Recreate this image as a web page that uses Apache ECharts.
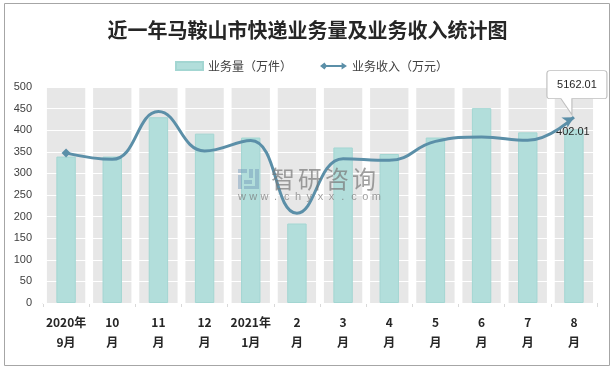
<!DOCTYPE html>
<html>
<head>
<meta charset="utf-8">
<script src="https://cdn.jsdelivr.net/npm/echarts@6/dist/echarts.min.js"></script>
<style>
html,body{margin:0;padding:0;background:#fff;}
#c{width:615px;height:371px;}
</style>
</head>
<body>
<div id="c"></div>
<script>
var titleText = '近一年马鞍山市快递业务量及业务收入统计图';
var categories = ['2020年\n9月','10\n月','11\n月','12\n月','2021年\n1月','2\n月','3\n月','4\n月','5\n月','6\n月','7\n月','8\n月'];
var volumeName = '业务量（万件）';
var revenueName = '业务收入（万元）';
var volume = [339, 339, 430, 392, 383, 184, 360, 345, 383, 451, 395, 402.01];
var revenue = [4164, 3990, 5316, 4224, 4512, 2492, 4008, 3963, 4490, 4612, 4521, 5162.01];
var yTicks = {min: 0, max: 500, interval: 50};
var y2Range = {min: 0, max: 6000};
var bandValue = [500,500,500,500,500,500,500,500,500,500,500,500];
var watermarkName = '智研咨询';
var watermarkUrl = 'www.chyxx.com';

var chart = echarts.init(document.getElementById('c'), null, {renderer: 'canvas'});

var lastIdx = revenue.length - 1;
var lineData = revenue.map(function (v, i) {
  if (i === 0) return {value: v, symbol: 'diamond', symbolSize: 9};
  if (i === lastIdx) return {value: v, symbol: 'arrow', symbolSize: [9, 11], symbolRotate: -60};
  return {value: v, symbol: 'none'};
});
var barData = volume.map(function (v, i) {
  if (i === lastIdx) {
    return {value: v, label: {show: true, formatter: String(v.toFixed(2)), position: ['50%', 0], align: 'center', verticalAlign: 'middle', offset: [-1, 3], color: '#262626', fontSize: 11, fontFamily: 'Liberation Sans'}};
  }
  return v;
});

var calloutPath = 'path://M3,0 H57 Q60,0 60,3 V25 Q60,28 57,28 H25 L25,44 L14,28 H3 Q0,28 0,25 V3 Q0,0 3,0 Z';
var wmFill = 'rgba(110,150,185,0.45)';
var wmText = 'rgba(120,120,120,0.7)';

var graphics = [
  {type: 'rect', silent: true, shape: {x: 4.5, y: 3.5, width: 605, height: 362}, style: {fill: 'none', stroke: '#a6a6a6', lineWidth: 1}},
  {type: 'rect', zlevel: 1, silent: true, shape: {x: 238, y: 169, width: 9, height: 4}, style: {fill: wmFill}},
  {type: 'rect', zlevel: 1, silent: true, shape: {x: 238, y: 175, width: 4, height: 14}, style: {fill: wmFill}},
  {type: 'rect', zlevel: 1, silent: true, shape: {x: 244, y: 180, width: 8, height: 4}, style: {fill: wmFill}},
  {type: 'rect', zlevel: 1, silent: true, shape: {x: 249, y: 169, width: 4, height: 9}, style: {fill: wmFill}},
  {type: 'rect', zlevel: 1, silent: true, shape: {x: 255, y: 169, width: 4, height: 20}, style: {fill: wmFill}},
  {type: 'rect', zlevel: 1, silent: true, shape: {x: 244, y: 186, width: 11, height: 3}, style: {fill: wmFill}}
];
watermarkName.split('').forEach(function (ch, i) {
  graphics.push({type: 'text', zlevel: 1, silent: true, x: 283 + i * 27, y: 179,
    style: {text: ch, fontSize: 24, fill: wmText, align: 'center', verticalAlign: 'middle', fontFamily: '"Noto Sans CJK SC"'}});
});
watermarkUrl.split('').forEach(function (ch, i) {
  graphics.push({type: 'text', zlevel: 1, silent: true, x: 242 + i * 11.2, y: 197,
    style: {text: ch, fontSize: 11, fill: wmText, align: 'center', verticalAlign: 'middle', fontFamily: 'Liberation Sans'}});
});

chart.setOption({
  animation: false,
  backgroundColor: '#ffffff',
  title: {
    text: titleText,
    left: 'center',
    top: 15,
    textStyle: {fontSize: 20, fontWeight: 'bold', color: '#262626', fontFamily: '"Noto Sans CJK SC"'}
  },
  legend: {
    left: 170,
    top: 55,
    itemWidth: 27,
    itemHeight: 8,
    itemGap: 28,
    textStyle: {fontSize: 12, color: '#404040', fontFamily: '"Noto Sans CJK SC"'},
    data: [
      {name: volumeName, icon: 'rect'},
      {name: revenueName, icon: 'path://M0,4 L5,0 L7,3 L24,3 L24,0 L30,4 L24,8 L24,5 L7,5 L5,8 Z'}
    ]
  },
  grid: {left: 43, right: 18, top: 87, bottom: 68, containLabel: false},
  xAxis: [{
    type: 'category',
    data: categories,
    axisLine: {lineStyle: {color: '#d9d9d9'}},
    axisTick: {show: true, length: 4, lineStyle: {color: '#d9d9d9'}},
    axisLabel: {interval: 0, fontSize: 12, fontWeight: 'bold', color: '#262626', lineHeight: 20, margin: 9, fontFamily: '"Noto Sans CJK SC"'}
  }, {
    type: 'category',
    data: categories,
    show: false
  }],
  yAxis: [{
    type: 'value',
    min: yTicks.min,
    max: yTicks.max,
    interval: yTicks.interval,
    z: 2,
    axisLine: {show: false},
    axisTick: {show: false},
    splitLine: {show: true, lineStyle: {color: '#ffffff', width: 1}},
    axisLabel: {fontSize: 11, color: '#404040', margin: 11, fontFamily: 'Liberation Sans'}
  }, {
    type: 'value',
    min: y2Range.min,
    max: y2Range.max,
    show: false,
    splitLine: {show: false}
  }],
  graphic: graphics,
  series: [
    {
      name: 'band',
      type: 'bar',
      xAxisIndex: 1,
      yAxisIndex: 0,
      data: bandValue,
      barWidth: '83%',
      silent: true,
      z: 1,
      itemStyle: {color: '#e7e7e7'},
      legendHoverLink: false
    },
    {
      name: volumeName,
      type: 'bar',
      xAxisIndex: 0,
      yAxisIndex: 0,
      data: barData,
      barWidth: '42%',
      z: 3,
      itemStyle: {color: '#b2dedb', borderColor: '#a3d6d2', borderWidth: 1}
    },
    {
      name: revenueName,
      type: 'line',
      xAxisIndex: 0,
      yAxisIndex: 1,
      data: lineData,
      smooth: 0.45,
      z: 4,
      showSymbol: true,
      symbol: 'none',
      lineStyle: {color: '#5b8fa8', width: 3},
      itemStyle: {color: '#5b8fa8'},
      markPoint: {
        silent: true,
        data: [{coord: [lastIdx, revenue[lastIdx]], value: revenue[lastIdx]}],
        symbol: calloutPath,
        symbolSize: [60, 44],
        symbolOffset: [3, -24.5],
        itemStyle: {color: '#ffffff', borderColor: '#bfbfbf', borderWidth: 1},
        label: {show: true, position: 'inside', offset: [0, -8], formatter: function (p) { return p.value.toFixed(2); }, color: '#262626', fontSize: 11, fontFamily: 'Liberation Sans'}
      }
    }
  ]
});
</script>
</body>
</html>
